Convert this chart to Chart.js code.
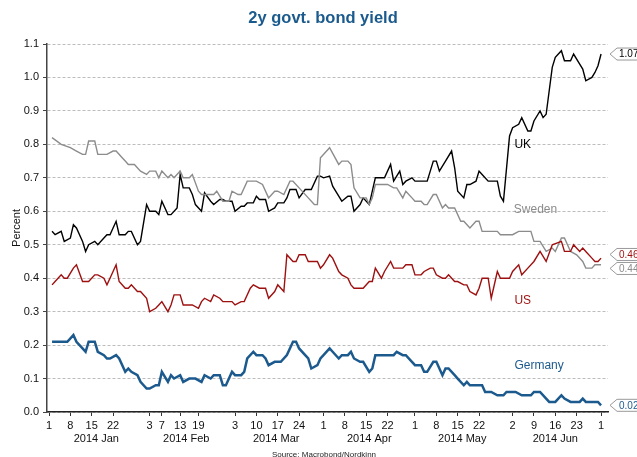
<!DOCTYPE html>
<html>
<head>
<meta charset="utf-8">
<script src="https://cdn.jsdelivr.net/npm/chart.js@4.4.1/dist/chart.umd.min.js"></script>
<style>
  html, body { margin: 0; padding: 0; background: #fff; }
  #wrap { width: 637px; height: 457px; }
</style>
</head>
<body>
<div id="wrap"><canvas id="bond-yield"></canvas></div>
<script>
// x values are days since 1 Jan 2014
const tickDays = [0, 7, 14, 21, 33, 37, 43, 49, 61, 68, 75, 82, 90, 97, 104, 111, 120, 127, 134, 141, 152, 159, 166, 173, 181];
const tickLabels = ["1", "8", "15", "22", "3", "7", "13", "19", "3", "10", "17", "24", "1", "8", "15", "22", "1", "8", "15", "22", "2", "9", "16", "23", "1"];
const monthStarts = [0, 31, 59, 90, 120, 151, 181];
const monthLabels = ["2014 Jan", "2014 Feb", "2014 Mar", "2014 Apr", "2014 May", "2014 Jun"];

// UK
const uk = [
    [1,0.54],[2,0.53],[4,0.54],[5,0.51],[7,0.52],[8,0.56],[9,0.55],[11,0.51],[12,0.48],[13,0.50],[15,0.51],[16,0.50],
    [18,0.52],[19,0.53],[20,0.53],[22,0.57],[23,0.53],[25,0.53],[26,0.54],[27,0.54],[29,0.50],[30,0.51],[32,0.62],[33,0.60],
    [35,0.60],[36,0.59],[37,0.63],[39,0.59],[40,0.59],[42,0.61],[43,0.71],[44,0.67],[46,0.67],[47,0.65],[48,0.62],[50,0.60],
    [51,0.655],[53,0.63],[54,0.62],[56,0.635],[57,0.635],[58,0.63],[60,0.63],[61,0.60],[63,0.615],[64,0.615],[65,0.625],[67,0.625],
    [68,0.645],[69,0.635],[71,0.635],[72,0.60],[74,0.61],[75,0.625],[77,0.625],[78,0.64],[79,0.665],[81,0.665],[82,0.64],[84,0.665],
    [86,0.665],[88,0.705],[89,0.705],[90,0.70],[92,0.705],[93,0.675],[95,0.645],[96,0.63],[98,0.645],[99,0.645],
    [100,0.60],[102,0.62],[103,0.64],[105,0.62],[106,0.66],[107,0.70],[110,0.70],[112,0.74],[113,0.69],[115,0.72],[116,0.68],
    [117,0.69],[119,0.70],[120,0.69],[124,0.69],[126,0.75],[127,0.75],[128,0.72],[130,0.75],[132,0.78],[133,0.73],[134,0.66],
    [136,0.64],[137,0.68],[138,0.68],[140,0.69],[141,0.72],[142,0.71],[144,0.69],[147,0.69],[148,0.645],[149,0.63],[151,0.825],
    [152,0.85],[154,0.86],[155,0.88],[157,0.84],[158,0.84],[159,0.87],[161,0.90],[162,0.88],[163,0.89],[165,1.03],[166,1.06],
    [168,1.08],[169,1.05],[171,1.05],[172,1.07],[174,1.04],[175,1.025],[176,0.99],[178,1.0],[179,1.015],[180,1.035],[181,1.07]
];

// Sweden
const sweden = [
    [1,0.82],[4,0.80],[7,0.79],[9,0.78],[11,0.77],[12,0.77],[13,0.81],[15,0.81],[16,0.77],[19,0.77],[21,0.78],[22,0.78],
    [24,0.76],[25,0.75],[26,0.74],[28,0.74],[30,0.72],[32,0.71],[33,0.72],[35,0.72],[36,0.70],[37,0.72],[39,0.70],[40,0.71],
    [41,0.70],[43,0.72],[44,0.70],[46,0.70],[47,0.71],[49,0.66],[50,0.65],[54,0.65],[55,0.66],[57,0.63],[59,0.63],[60,0.66],
    [62,0.65],[63,0.65],[65,0.69],[68,0.69],[70,0.68],[72,0.64],[74,0.66],[75,0.66],[77,0.65],[79,0.69],[80,0.69],[82,0.67],
    [85,0.64],[87,0.62],[88,0.62],[89,0.76],[92,0.79],[95,0.74],[96,0.75],[98,0.75],[99,0.74],[100,0.67],[102,0.64],[104,0.64],
    [105,0.62],[106,0.64],[107,0.68],[111,0.68],[113,0.67],[114,0.67],[116,0.64],[117,0.66],[119,0.64],[120,0.63],[122,0.63],
    [123,0.62],[124,0.62],[126,0.65],[127,0.65],[129,0.61],[130,0.62],[131,0.61],[133,0.61],[135,0.57],[136,0.57],[138,0.55],
    [140,0.57],[141,0.57],[142,0.54],[147,0.54],[148,0.53],[152,0.53],[154,0.54],[158,0.54],[159,0.51],[161,0.51],[163,0.48],
    [165,0.49],[166,0.48],[168,0.52],[169,0.52],[171,0.48],[173,0.47],[175,0.45],[176,0.43],[178,0.43],[179,0.44],[181,0.44]
];

// US
const us = [
    [1,0.38],[2,0.39],[4,0.41],[5,0.40],[6,0.40],[8,0.43],[9,0.44],[11,0.39],[13,0.39],[15,0.41],[16,0.41],[18,0.40],[19,0.38],
    [20,0.40],[22,0.44],[23,0.39],[25,0.37],[26,0.37],[27,0.38],[29,0.36],[30,0.36],[32,0.34],[33,0.30],[35,0.31],[36,0.32],
    [37,0.33],[39,0.30],[40,0.32],[41,0.35],[43,0.35],[44,0.32],[47,0.32],[49,0.31],[50,0.33],[51,0.34],[53,0.33],[54,0.35],
    [56,0.34],[57,0.33],[60,0.33],[61,0.32],[63,0.33],[64,0.33],[66,0.37],[67,0.38],[69,0.37],[71,0.37],[72,0.34],[74,0.36],
    [75,0.38],[77,0.36],[78,0.47],[80,0.45],[81,0.45],[82,0.47],[84,0.47],[85,0.45],[88,0.45],[89,0.43],[90,0.44],[92,0.47],
    [93,0.46],[95,0.42],[96,0.41],[98,0.40],[99,0.38],[100,0.37],[103,0.37],[105,0.39],[106,0.39],[107,0.43],[109,0.40],
    [110,0.42],[112,0.45],[113,0.43],[116,0.43],[117,0.44],[119,0.44],[120,0.41],[122,0.41],[123,0.42],[125,0.43],[126,0.43],
    [127,0.41],[129,0.40],[130,0.40],[131,0.41],[133,0.39],[134,0.39],[136,0.38],[137,0.38],[138,0.36],[140,0.35],[141,0.37],
    [142,0.40],[144,0.40],[145,0.34],[147,0.42],[148,0.40],[151,0.40],[152,0.42],[154,0.44],[155,0.41],[157,0.43],[159,0.45],
    [161,0.48],[162,0.465],[163,0.45],[165,0.50],[168,0.51],[169,0.48],[171,0.48],[172,0.50],[174,0.48],[175,0.49],[176,0.48],
    [178,0.46],[179,0.45],[180,0.45],[181,0.46]
];

// Germany
const germany = [
    [1,0.21],[6,0.21],[8,0.23],[9,0.21],[11,0.19],[12,0.18],[13,0.21],[15,0.21],[16,0.18],[18,0.17],[19,0.16],[20,0.16],
    [22,0.17],[23,0.16],[25,0.12],[26,0.13],[27,0.12],[29,0.11],[30,0.09],[32,0.07],[33,0.07],[35,0.08],[36,0.08],[37,0.12],
    [39,0.09],[40,0.11],[41,0.10],[43,0.11],[44,0.09],[46,0.10],[48,0.10],[50,0.09],[51,0.11],[53,0.10],[54,0.11],[56,0.11],
    [57,0.08],[58,0.08],[60,0.12],[61,0.11],[63,0.11],[64,0.12],[65,0.16],[67,0.18],[68,0.17],[70,0.17],[71,0.16],[72,0.14],
    [74,0.15],[76,0.15],[78,0.17],[80,0.21],[81,0.21],[82,0.19],[84,0.17],[85,0.16],[86,0.13],[88,0.14],[89,0.16],[90,0.17],
    [92,0.19],[93,0.18],[95,0.16],[96,0.17],[98,0.17],[99,0.18],[100,0.16],[102,0.15],[103,0.15],[105,0.12],[106,0.13],
    [107,0.17],[113,0.17],[114,0.18],[116,0.17],[117,0.17],[119,0.15],[120,0.14],[122,0.14],[123,0.12],[124,0.12],[126,0.15],
    [127,0.15],[129,0.11],[130,0.13],[131,0.13],[133,0.11],[134,0.10],[136,0.08],[137,0.09],[138,0.08],[141,0.08],[142,0.08],
    [143,0.06],[145,0.06],[147,0.05],[149,0.05],[150,0.06],[153,0.06],[155,0.05],[158,0.05],[159,0.06],[161,0.06],[163,0.04],
    [164,0.03],[166,0.03],[168,0.05],[169,0.04],[171,0.03],[174,0.03],[175,0.04],[176,0.03],[180,0.03],[181,0.02]
];

const toXY = (arr) => arr.map(p => ({ x: p[0], y: p[1] }));
const FONT = "'Liberation Sans', Arial, sans-serif";

// title, text labels next to the lines, value tags at right edge, source
const decorations = {
    id: "decorations",
    afterDatasetsDraw(chart) {
        const ctx = chart.ctx;
        const xs = chart.scales.x, ys = chart.scales.y;
        ctx.save();

        ctx.font = "bold 16.5px " + FONT;
        ctx.fillStyle = "#1b5a8c";
        ctx.textAlign = "center";
        ctx.textBaseline = "middle";
        ctx.fillText("2y govt. bond yield", 323, 18.5);

        ctx.font = "12px " + FONT;
        ctx.textAlign = "left";
        chart.data.datasets.forEach(ds => {
            ctx.fillStyle = ds.borderColor;
            ctx.fillText(ds.label, xs.getPixelForValue(ds.nameAt[0]), ys.getPixelForValue(ds.nameAt[1]));
        });

        // end tags
        let tags = chart.data.datasets.map(ds => {
            const last = ds.data[ds.data.length - 1];
            return { y: ys.getPixelForValue(last.y), text: last.y.toFixed(2), color: ds.borderColor };
        }).sort((a, b) => a.y - b.y);
        for (let i = 1; i < tags.length; i++) {
            if (tags[i].y - tags[i - 1].y < 14) {
                const mid = (tags[i].y + tags[i - 1].y) / 2;
                tags[i - 1].y = mid - 7;
                tags[i].y = mid + 7;
            }
        }
        const tip = chart.chartArea.right + 2;
        ctx.font = "10px " + FONT;
        tags.forEach(t => {
            ctx.beginPath();
            ctx.moveTo(tip, t.y);
            ctx.lineTo(tip + 7, t.y - 6);
            ctx.lineTo(tip + 40, t.y - 6);
            ctx.lineTo(tip + 40, t.y + 6);
            ctx.lineTo(tip + 7, t.y + 6);
            ctx.closePath();
            ctx.fillStyle = "#fff";
            ctx.fill();
            ctx.strokeStyle = "#999";
            ctx.lineWidth = 1;
            ctx.stroke();
            ctx.fillStyle = t.color;
            ctx.fillText(t.text, tip + 9, t.y + 0.5);
        });

        ctx.font = "8px " + FONT;
        ctx.fillStyle = "#222";
        ctx.textAlign = "center";
        ctx.textBaseline = "top";
        ctx.fillText("Source: Macrobond/Nordkinn", 324, 451);
        ctx.restore();
    }
};

const data = {
    datasets: [
        { label: "Germany", data: toXY(germany), borderColor: "#1c5a8e", borderWidth: 2.5, nameAt: [152.6, 0.1375] },
        { label: "US", data: toXY(us), borderColor: "#9e1010", borderWidth: 1.4, nameAt: [152.6, 0.333] },
        { label: "Sweden", data: toXY(sweden), borderColor: "#8c8c8c", borderWidth: 1.4, nameAt: [152.4, 0.605] },
        { label: "UK", data: toXY(uk), borderColor: "#000000", borderWidth: 1.4, nameAt: [152.6, 0.80] },
    ]
};

const config = {
    type: "line",
    data,
    plugins: [decorations],
    options: {
        responsive: true,
        maintainAspectRatio: false,
        animation: false,
        elements: { point: { radius: 0 }, line: { tension: 0 } },
        layout: { padding: { left: 0, right: 29, top: 44, bottom: 9 } },
        plugins: {
            legend: { display: false },
            tooltip: { enabled: false },
            title: { display: false }
        },
        scales: {
            x: {
                type: "linear",
                min: -0.656,
                max: 183.28,
                afterBuildTicks: (scale) => { scale.ticks = tickDays.map(v => ({ value: v })); },
                afterFit: (scale) => { scale.height = 19; },
                grid: { drawOnChartArea: false, tickLength: 4, tickColor: "#333" },
                border: { color: "#222", width: 1.5 },
                ticks: {
                    autoSkip: false,
                    maxRotation: 0,
                    padding: 3,
                    color: "#111",
                    font: { family: FONT, size: 11 },
                    callback: (v, i) => tickLabels[i]
                }
            },
            x2: {
                type: "linear",
                position: "bottom",
                min: -0.656,
                max: 183.28,
                afterBuildTicks: (scale) => {
                    scale.ticks = monthLabels.map((m, i) => ({ value: (monthStarts[i] + monthStarts[i + 1]) / 2 }));
                },
                afterFit: (scale) => { scale.height = 17; },
                grid: { display: false, drawTicks: false },
                border: { display: false },
                ticks: {
                    autoSkip: false,
                    maxRotation: 0,
                    padding: 1,
                    color: "#111",
                    font: { family: FONT, size: 11 },
                    callback: (v, i) => monthLabels[i]
                }
            },
            y: {
                min: 0,
                max: 1.1,
                afterFit: (scale) => { scale.width = 47; },
                grid: { color: "#bdbdbd", tickLength: 4, tickColor: "#444", tickBorderDash: [] },
                border: { color: "#444", width: 1.5, dash: [3, 2] },
                ticks: {
                    stepSize: 0.1,
                    padding: 4,
                    color: "#111",
                    font: { family: FONT, size: 11 },
                    callback: (v) => v.toFixed(1)
                },
                title: {
                    display: true,
                    text: "Percent",
                    color: "#111",
                    font: { family: FONT, size: 11 },
                    padding: { top: 10, bottom: 0 }
                }
            }
        }
    }
};

var bondChart = new Chart(document.getElementById("bond-yield"), config);
</script>
</body>
</html>
